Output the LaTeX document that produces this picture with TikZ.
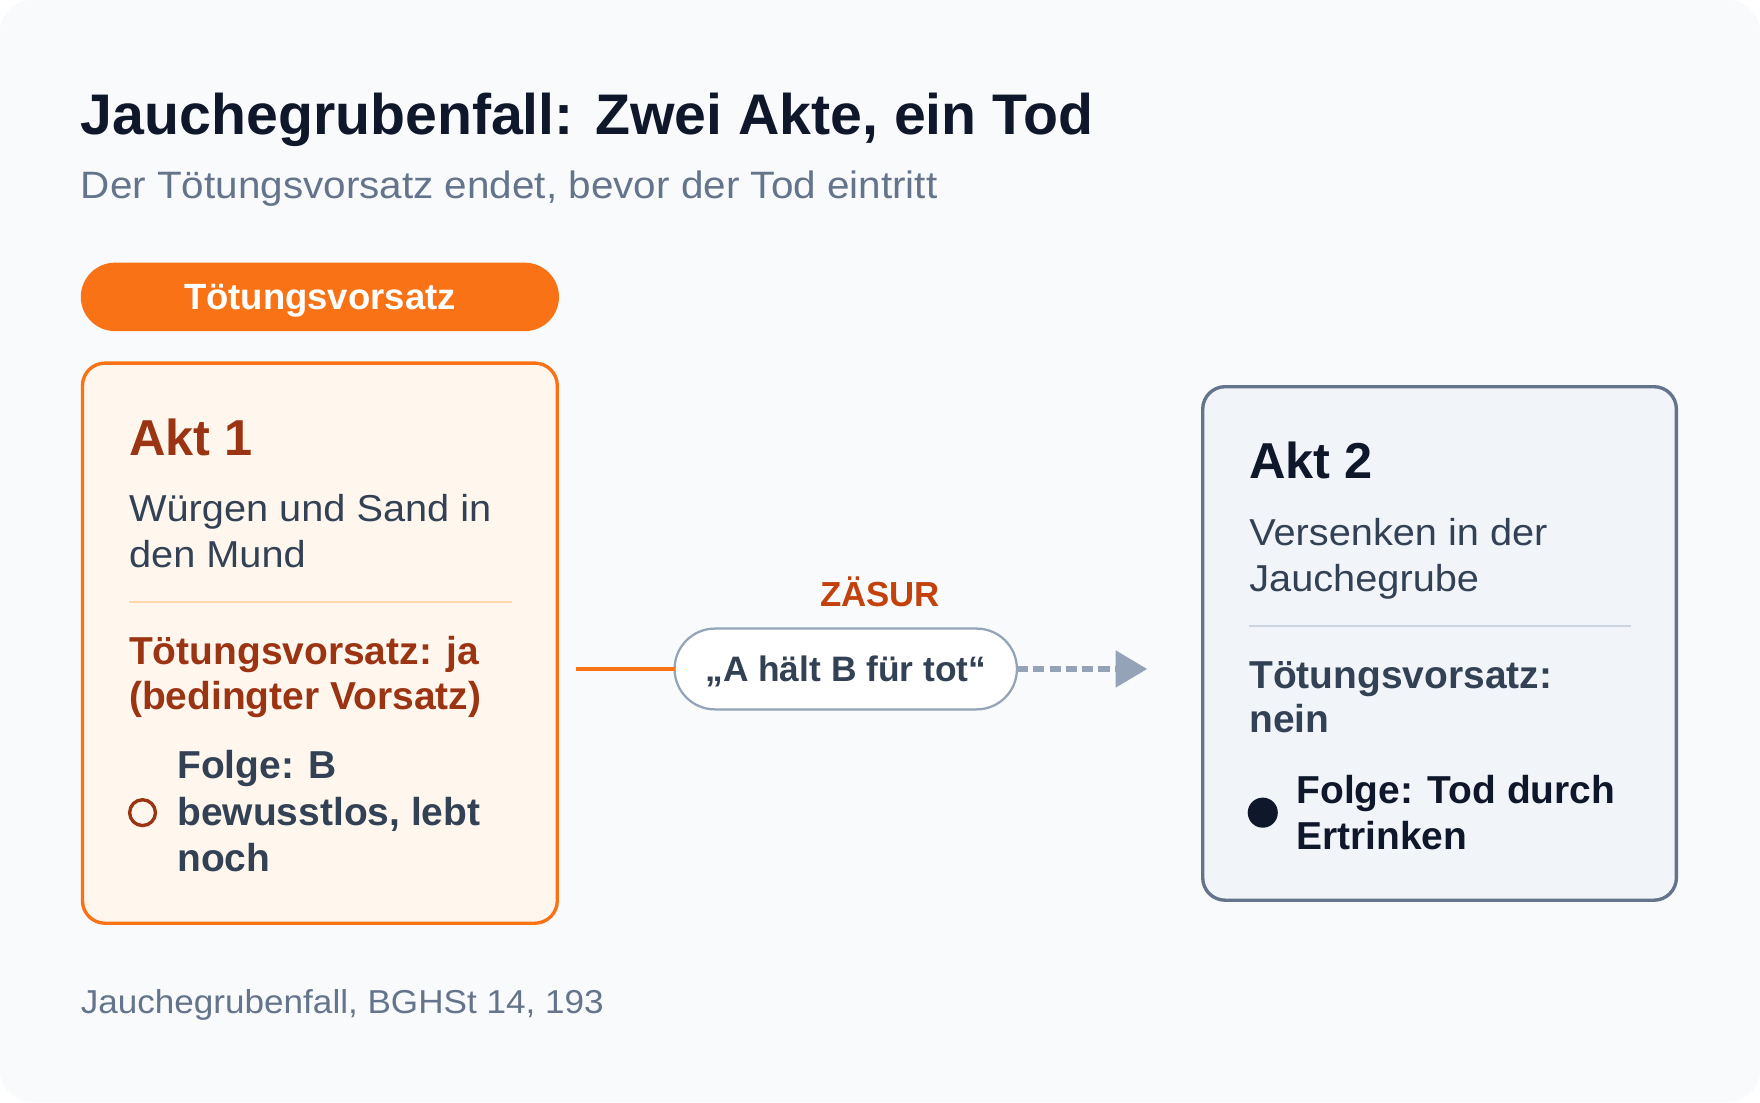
\documentclass[tikz,border=0pt]{standalone}
\usepackage{fontspec}
\setmainfont{Liberation Sans}
\newfontfamily\regf{Liberation Sans}[FakeStretch=1.06]
\usetikzlibrary{arrows.meta}
\definecolor{bgc}{HTML}{F8FAFC}
\definecolor{ink}{HTML}{0F172A}
\definecolor{slate}{HTML}{334155}
\definecolor{muted}{HTML}{64748B}
\definecolor{orng}{HTML}{F97316}
\definecolor{brown}{HTML}{9A3412}
\definecolor{rust}{HTML}{C2410C}
\definecolor{cream}{HTML}{FFF7ED}
\definecolor{peach}{HTML}{FED7AA}
\definecolor{greyline}{HTML}{94A3B8}
\definecolor{pale}{HTML}{F1F5F9}
\definecolor{divgrey}{HTML}{CBD5E1}
\tikzset{
  txt/.style={anchor=base west, inner sep=0pt, outer sep=0pt},
  titlef/.style={txt, text=ink, font=\bfseries\fontsize{51}{60}\selectfont},
  subf/.style={txt, text=muted, font=\regf\fontsize{34}{40}\selectfont},
  headf/.style={txt, font=\bfseries\fontsize{45}{54}\selectfont},
  bodyf/.style={txt, text=slate, font=\regf\fontsize{33.4}{40}\selectfont},
  boldf/.style={txt, font=\bfseries\fontsize{34.7}{41}\selectfont},
  footf/.style={txt, text=muted, font=\regf\fontsize{29.5}{36}\selectfont},
  aktbox/.style={rectangle, rounded corners=20pt, line width=3pt, inner sep=0pt},
  pillbox/.style={rectangle, inner sep=0pt, outer sep=0pt},
  divider/.style={line width=1.5pt},
}
\begin{document}
\begin{tikzpicture}[x=1pt, y=-1pt]
\useasboundingbox (0,0) rectangle (1568,981.8);
\fill[white] (0,0) rectangle (1568,981.8);
\fill[bgc, rounded corners=29pt] (0,0) rectangle (1568,981.8);

% title
\node[titlef] (title) at (72,119.5) {Jauchegrubenfall: Zwei Akte, ein Tod};
\node[subf] (subtitle) at (72,177) {Der Tötungsvorsatz endet, bevor der Tod eintritt};

% Toetungsvorsatz pill
\node[pillbox, fill=orng, rounded corners=30.5pt, minimum width=426pt, minimum height=61pt,
      text=white, font=\bfseries\fontsize{32.5}{38}\selectfont, text height=23.3pt, text depth=0pt]
      (tv) at (285,264.5) {Tötungsvorsatz};

% Akt 1 box
\node[aktbox, draw=orng, fill=cream, minimum width=423pt, minimum height=499pt] (box1) at (285,573) {};
\node[headf, text=brown] (a1h) at (115,405.5) {Akt 1};
\node[bodyf] (a1b1) at (115,465) {Würgen und Sand in};
\node[bodyf] (a1b2) at (115,506) {den Mund};
\draw[divider, peach] (115,536.5) -- (456,536.5);
\node[boldf, text=brown] (a1v1) at (115,592) {Tötungsvorsatz: ja};
\node[boldf, text=brown] (a1v2) at (115,632) {(bedingter Vorsatz)};
\node[circle, draw=brown, line width=3pt, minimum size=23pt, inner sep=0pt] (c1) at (127,724) {};
\node[boldf, text=slate] (a1f1) at (158,694) {Folge: B};
\node[boldf, text=slate] (a1f2) at (158,735) {bewusstlos, lebt};
\node[boldf, text=slate] (a1f3) at (158,776.5) {noch};

% Akt 2 box
\node[aktbox, draw=muted, fill=pale, minimum width=422pt, minimum height=457.5pt] (box2) at (1282.5,573.25) {};
\node[headf, text=ink] (a2h) at (1113,426.5) {Akt 2};
\node[bodyf] (a2b1) at (1113,486) {Versenken in der};
\node[bodyf] (a2b2) at (1113,527) {Jauchegrube};
\draw[divider, divgrey] (1113,557.5) -- (1453,557.5);
\node[boldf, text=slate] (a2v1) at (1113,613) {Tötungsvorsatz:};
\node[boldf, text=slate] (a2v2) at (1113,653) {nein};
\node[circle, fill=ink, minimum size=26.8pt, inner sep=0pt] (c2) at (1125,724) {};
\node[boldf, text=ink] (a2f1) at (1155,716) {Folge: Tod durch};
\node[boldf, text=ink] (a2f2) at (1155,757) {Ertrinken};

% Zaesur
\node[anchor=base, inner sep=0pt, text=rust, font=\bfseries\fontsize{31}{36}\selectfont] (zs) at (784,540) {ZÄSUR};
\node[pillbox, draw=greyline, fill=white, line width=2pt, rounded corners=36pt,
      minimum width=305pt, minimum height=72pt, text=slate,
      font=\bfseries\fontsize{31.5}{37}\selectfont, text height=22.5pt, text depth=0pt]
      (mid) at (753.5,596) {„A hält B für tot“};
\coordinate (lstart) at (513,596);
\coordinate (aend) at (1022,596);
\draw[orng, line width=4pt] (lstart) -- (mid.west);
\draw[greyline, line width=4.5pt, dash pattern=on 10pt off 4.5pt,
      -{Triangle[length=28pt, width=32pt]}] (mid.east) -- (aend);

% footnote
\node[footf] (foot) at (72,903) {Jauchegrubenfall, BGHSt 14, 193};
\end{tikzpicture}
\end{document}
